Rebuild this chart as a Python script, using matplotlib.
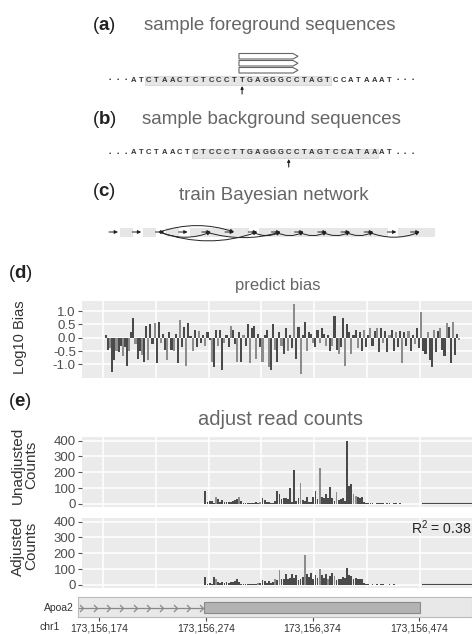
import matplotlib.pyplot as plt
from matplotlib.patches import Rectangle, Polygon, FancyArrowPatch
from matplotlib.path import Path

plt.rcParams['font.family'] = ['Liberation Sans', 'DejaVu Sans']
plt.rcParams['mathtext.fontset'] = 'custom'
plt.rcParams['mathtext.rm'] = 'Liberation Sans'
plt.rcParams['mathtext.bf'] = 'Liberation Sans:bold'
plt.rcParams['axes.unicode_minus'] = False

W, H = 472, 634

# ---------------- data ----------------
sequence = "ATCTAACTCTCCCTTGAGGGCCTAGTCCATAAAT"
fg_window = (2, 25)        # highlighted letters (foreground)
fg_cut = 14
fg_reads = 3
read_span = (13.6, 21.2)
bg_window = (8, 31)        # highlighted letters (background)
bg_cut = 20

net_nodes = 14
net_groups = [(0, 0), (1, 1), (2, 2), (3, 5), (6, 11), (12, 13)]
net_arcs = [(2, 5, -0.17), (2, 4, 0.2), (2, 6, 0.18), (4, 7, 0.15),
            (6, 7, 0.25), (7, 8, 0.25), (8, 9, 0.25), (9, 10, 0.25),
            (10, 11, 0.25), (11, 13, 0.2)]

bias_start = 2   # bp offset of first bin
bias_bin = 2
log10_bias = [
    0.1, -0.45, -0.4, -1.3, -0.85, -0.5, -0.55, -0.3, -0.7, -0.35,
    -1.05, -0.5, 0.2, 0.75, -0.25, -0.8, -0.5, -0.65, -0.9, 0.45,
    -0.85, 0.5, -0.25, 0.55, -0.95, 0.6, -0.2, 0.15, -0.45, -0.85,
    0.2, -0.45, -0.5, 0.15, -0.95, 0.65, -0.35, 0.4, -1.05, 0.55,
    0.05, -0.5, 0.3, -0.35, 0.25, -0.2, 0.1, -0.3, 0.2, -0.1,
    -0.9, -1.1, 0.3, -0.3, 0.3, -1.2, -0.2, 0.1, -0.35, 0.45,
    0.3, -0.25, -0.9, 0.2, -0.9, 0.1, -0.3, 0.5, -0.95, 0.35,
    0.45, -0.8, 0.15, -0.35, -0.9, 0.1, 0.3, -1.1, -1.2, 0.5,
    -0.45, -0.9, 0.2, -0.3, -0.6, 0.35, -0.5, 0.1, -0.4, 1.25,
    -0.8, 0.4, -1.35, 0.1, 0.6, -0.5, 0.2, 0.15, -0.2, -0.35,
    0.3, -0.2, 0.35, 0.15, -0.3, 0.1, -0.5, -0.3, 0.8, -0.45,
    -0.6, -0.35, 0.75, -1.05, 0.5, 0.2, -0.6, 0.1, 0.3, -0.4,
    0.2, -0.5, 0.3, -0.35, 0.1, 0.35, -0.3, 0.25, 0.35, -0.55,
    0.35, -0.2, 0.25, -0.55, 0.1, 0.3, -0.5, 0.2, -0.35, 0.25,
    -0.95, 0.2, -0.3, 0.25, -0.5, 0.1, -0.25, 0.35, -0.4, 0.95,
    -0.5, -0.6, 0.2, -0.85, -1.1, 0.3, -0.55, 0.25, 0.35, -0.45,
    -0.7, 0.55, 0.4, -0.95, 0.6, -0.65, 0.15, -0.1,
]

count_start = 96
count_bin = 2
unadjusted = [
    85, 10, 18, 20, 8, 45, 30, 15, 22, 12,
    10, 15, 12, 20, 25, 30, 45, 20, 5, 3,
    4, 8, 5, 3, 12, 5, 10, 35, 28, 12,
    15, 8, 5, 20, 82, 60, 30, 35, 40, 30,
    100, 15, 215, 20, 40, 130, 25, 20, 45, 15,
    10, 45, 80, 30, 225, 45, 40, 60, 35, 105,
    40, 20, 75, 25, 30, 40, 20, 395, 115, 125,
    60, 50, 45, 40, 45, 15, 5, 4, 3, 5,
    2, 6, 3, 4, 5, 2, 3, 5, 2, 4,
    3, 2, 3,
]
adjusted = [
    48, 8, 12, 5, 52, 40, 18, 15, 20, 14,
    16, 15, 18, 20, 22, 40, 18, 6, 5, 4,
    6, 5, 4, 8, 6, 10, 15, 30, 25, 10,
    25, 12, 20, 40, 30, 95, 35, 40, 70, 35,
    45, 70, 45, 60, 30, 40, 50, 190, 70, 50,
    75, 35, 60, 45, 100, 65, 45, 70, 40, 55,
    75, 55, 30, 35, 40, 50, 45, 110, 60, 55,
    40, 45, 40, 35, 40, 10, 4, 3, 2, 4,
    2, 3, 2, 3, 4, 2, 2, 3, 2, 3,
    2, 2, 2,
]
unadj_minus = [5, 16, 26, 45, 54, 62, 70, 71]
adj_minus = [5, 25, 33, 35, 47, 54, 58, 61]
flat_start, flat_level = 302, 3      # low coverage past the gene end

chrom = 'chr1'
coord_base = 173156174
coord_ticks = [0, 100, 200, 300]
gene_name = 'Apoa2'
exon = (98, 301)
intron_marks = [-15.3, -2.2, 10, 22.3, 35.4, 47.6, 59.8, 72.9, 85.1, 97.3]
r_squared = 0.38

DARK, LIGHT = '#4a4a4a', '#8c8c8c'
XLIM = (-19.6, 349)

# ---------------- figure ----------------
fig = plt.figure(figsize=(W / 100, H / 100), dpi=100)
ov = fig.add_axes([0, 0, 1, 1])
ov.set_xlim(0, W)
ov.set_ylim(H, 0)
ov.axis('off')


def px_axes(left, top, right, bottom):
    return fig.add_axes([left / W, 1 - bottom / H, (right - left) / W, (bottom - top) / H])


def panel_label(letter, x, y):
    ov.text(x, y, r'($\mathbf{%s}$)' % letter, fontsize=13.5, color='#222',
            ha='left', va='center')


def title(text, x, y, size=13.5):
    ov.text(x, y, text, fontsize=size, color='#666', ha='center', va='center')


# (a) / (b) sequences
step, x0 = 7.77, 110


def draw_sequence(y, window, cut):
    tokens = ['•'] * 3 + list(sequence) + ['•'] * 3
    lo = x0 + (window[0] + 3) * step - step / 2
    hi = x0 + (window[1] + 3) * step + step / 2
    ov.add_patch(Rectangle((lo, y - 4.5), hi - lo, 9, fc='#e6e6e6', ec='#d0d0d0', lw=0.5))
    for i, t in enumerate(tokens):
        if t == '•':
            ov.text(x0 + i * step, y, t, fontsize=4.5, color='#333', ha='center', va='center')
        else:
            ov.text(x0 + i * step, y, t, fontsize=5.5, fontweight='bold', color='#333',
                    ha='center', va='center')
    xc = x0 + (cut + 3) * step
    ov.annotate('', xy=(xc, y + 6), xytext=(xc, y + 14),
                arrowprops=dict(arrowstyle='-|>', lw=0.8, color='#222',
                                mutation_scale=4, shrinkA=0, shrinkB=0))


panel_label('a', 92, 25)
title('sample foreground sequences', 270, 26)
draw_sequence(80, fg_window, fg_cut)
ra = x0 + (read_span[0] + 3) * step
rb = x0 + (read_span[1] + 3) * step
for r in range(fg_reads):
    yt = 53.5 + r * 7
    ov.add_patch(Polygon([(ra, yt), (rb - 5, yt), (rb, yt + 2.75), (rb - 5, yt + 5.5), (ra, yt + 5.5)],
                         closed=True, fc='white', ec='#666', lw=0.8))

panel_label('b', 92, 119)
title('sample background sequences', 271, 119)
draw_sequence(153, bg_window, bg_cut)

# (c) network
panel_label('c', 92, 192)
title('train Bayesian network', 274, 196)
nx0, ndx, ny = 118, 23.2, 232
for a, b in net_groups:
    ov.add_patch(Rectangle((nx0 + a * ndx + 2, ny - 4.5), (b - a) * ndx + 13, 9,
                           fc='#e6e6e6', ec='none'))
for k in range(net_nodes):
    xk = nx0 + k * ndx
    ov.add_patch(FancyArrowPatch((xk - 9, ny), (xk, ny), arrowstyle='-|>', mutation_scale=5,
                                 lw=0.7, color='#222', shrinkA=0, shrinkB=0))
for a, b, rad in net_arcs:
    ov.add_patch(FancyArrowPatch((nx0 + a * ndx - 5, ny), (nx0 + b * ndx, ny),
                                 connectionstyle='arc3,rad=%s' % rad, arrowstyle='-|>',
                                 mutation_scale=5, lw=0.7, color='#222',
                                 shrinkA=0, shrinkB=0))


def gg(ax):
    ax.set_facecolor('#ebebeb')
    for s in ax.spines.values():
        s.set_visible(False)
    ax.grid(True, color='white', lw=1.1)
    ax.set_axisbelow(True)
    ax.set_xlim(*XLIM)
    ax.set_xticks(range(0, 301, 50))
    ax.tick_params(axis='y', length=3, color='#555', labelsize=9.5, labelcolor='#4d4d4d', pad=1.5)
    ax.tick_params(axis='x', length=0, labelbottom=False)


# (d) bias
panel_label('d', 8, 273)
title('predict bias', 278, 285.5, 12)
axd = px_axes(82, 300.7, 472, 378)
gg(axd)
bx = [bias_start + bias_bin * k + bias_bin / 2 for k in range(len(log10_bias))]
bc = [LIGHT if k % 3 == 2 else DARK for k in range(len(log10_bias))]
axd.bar(bx, log10_bias, width=2.0, color=bc, lw=0)
axd.set_ylim(-1.51, 1.39)
axd.set_yticks([-1, -0.5, 0, 0.5, 1])
axd.set_yticklabels(['-1.0', '-0.5', '0.0', '0.5', '1.0'])
ov.text(20, 337, 'Log10 Bias', rotation=90, fontsize=10.5, color='#333', ha='center', va='center')

# (e) counts
panel_label('e', 8, 401)
title('adjust read counts', 280, 419.5, 14.5)


def counts_panel(top, values, minus):
    ax = px_axes(82, top, 472, top + 70)
    gg(ax)
    cx = [count_start + count_bin * k + count_bin / 2 for k in range(len(values))]
    cc = [LIGHT if k in minus else DARK for k in range(len(values))]
    ax.bar(cx, values, width=1.7, color=cc, lw=0)
    ax.plot([flat_start, XLIM[1]], [flat_level, flat_level], color=DARK, lw=0.8)
    ax.set_ylim(-21, 421)
    ax.set_yticks(range(0, 401, 100))
    return ax


ax1 = counts_panel(437.3, unadjusted, unadj_minus)
ax1.set_xticks([100, 200], minor=True)
ax1.tick_params(axis='x', which='minor', length=4, color='#999', width=0.8)
ax2 = counts_panel(518.3, adjusted, adj_minus)
ax2.text(0.998, 0.86, r'R$^2$ = %.2f' % r_squared, transform=ax2.transAxes, fontsize=10,
         color='#222', va='center', ha='right')
ov.text(25, 465, 'Unadjusted\nCounts', rotation=90, fontsize=11, color='#333',
        ha='center', va='center', linespacing=0.95)
ov.text(25, 546, 'Adjusted\nCounts', rotation=90, fontsize=11, color='#333',
        ha='center', va='center', linespacing=0.95)

# gene track
axg = px_axes(78, 597, 472, 617)
axg.set_facecolor('#e8e8e8')
for s in axg.spines.values():
    s.set_color('#bbbbbb')
    s.set_linewidth(0.8)
axg.set_xlim(-20, 349.6)
axg.set_ylim(0, 1)
axg.set_yticks([])
axg.plot([-20, exon[0]], [0.475, 0.475], color='#888', lw=0.9)
chev = Path([(-1, 1), (0, 0), (-1, -1)], [Path.MOVETO, Path.LINETO, Path.LINETO])
axg.plot(intron_marks, [0.475] * len(intron_marks), ls='none', marker=chev, ms=5,
         mfc='none', mec='#888', mew=0.9)
axg.add_patch(Rectangle((exon[0], 0.185), exon[1] - exon[0], 0.58, fc='#b3b3b3', ec='#8a8a8a', lw=0.8))
axg.set_xticks(coord_ticks)
axg.set_xticklabels(['{:,}'.format(coord_base + t) for t in coord_ticks])
axg.tick_params(axis='x', length=3, color='#444', labelsize=7.5, labelcolor='#333', pad=1.5)
ov.text(74, 608, gene_name, fontsize=7.5, color='#333', ha='right', va='center')
ov.text(40, 627, chrom, fontsize=7.5, color='#333', ha='left', va='center')

fig.savefig('out.png', dpi=100)
